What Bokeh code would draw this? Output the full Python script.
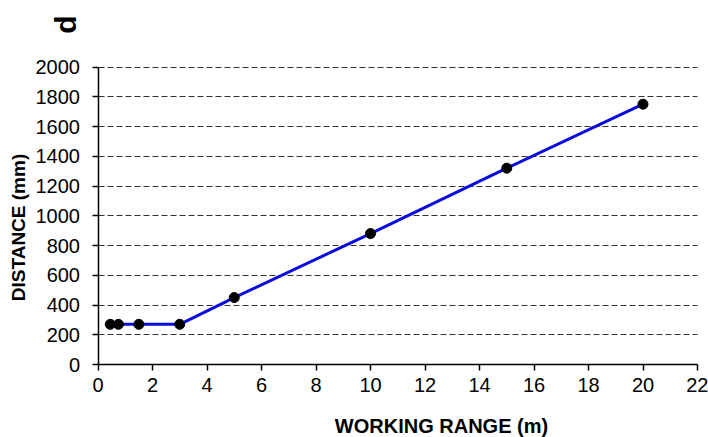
import math
from bokeh.plotting import figure
from bokeh.models import Range1d, SingleIntervalTicker, Label
from bokeh.embed import file_html
from bokeh.resources import INLINE

# Data
working_range = [0.45, 0.75, 1.5, 3, 5, 10, 15, 20]
distance = [270, 270, 270, 270, 450, 880, 1320, 1750]

x_label = "WORKING RANGE (m)"
y_label = "DISTANCE (mm)"
panel_tag = "d"

X_MIN, X_MAX = 0, 22
Y_MIN, Y_MAX = 0, 2000

FONT = "Liberation Sans"

W, H = 708, 437
# frame covers the whole canvas; the axes sit at fixed data locations inside it
px_left, px_right, px_top, px_bottom = 97.5, 697.0, 66.5, 364.0
sx = (px_right - px_left) / (X_MAX - X_MIN)
sy = (px_bottom - px_top) / (Y_MAX - Y_MIN)
x_range = Range1d(X_MIN - px_left / sx, X_MAX + (W - px_right) / sx)
y_range = Range1d(Y_MIN - (H - px_bottom) / sy, Y_MAX + px_top / sy)

p = figure(width=W, height=H, output_backend="svg", toolbar_location=None,
           x_range=x_range, y_range=y_range,
           min_border_left=0, min_border_right=0, min_border_top=0, min_border_bottom=0)
p.outline_line_color = None
p.background_fill_color = "white"
p.border_fill_color = "white"

p.line(working_range, distance, line_color="#0a0adc", line_width=3)
p.scatter(working_range, distance, size=10, fill_color="black", line_color="black")

p.xaxis[0].fixed_location = Y_MIN
p.xaxis[0].bounds = (X_MIN, X_MAX)
p.yaxis[0].fixed_location = X_MIN
p.yaxis[0].bounds = (Y_MIN, Y_MAX)

for ax in (p.xaxis[0], p.yaxis[0]):
    ax.axis_line_color = "black"
    ax.axis_line_width = 1.5
    ax.major_tick_line_color = "black"
    ax.major_tick_line_width = 1.5
    ax.major_tick_in = 0
    ax.major_tick_out = 6
    ax.minor_tick_line_color = None
    ax.major_label_text_font = FONT
    ax.major_label_text_font_size = "20px"
    ax.major_label_text_color = "black"

p.xaxis[0].ticker = SingleIntervalTicker(interval=2)
p.yaxis[0].ticker = SingleIntervalTicker(interval=200)
p.xaxis[0].major_label_standoff = 7
p.yaxis[0].major_label_standoff = 12

p.xgrid.grid_line_color = None
p.ygrid.grid_line_color = "#333333"
p.ygrid.grid_line_dash = "6 3"
p.ygrid.grid_line_width = 1
p.ygrid.ticker = SingleIntervalTicker(interval=200)
p.ygrid.bounds = (Y_MIN, Y_MAX)
p.ygrid.cross_bounds = (X_MIN, X_MAX)

p.add_layout(Label(x=441, y=H - 425, x_units="screen", y_units="screen", text=x_label,
                   text_font=FONT, text_font_size="20px",
                   text_font_style="bold", text_align="center", text_baseline="middle",
                   text_color="black"))
p.add_layout(Label(x=18, y=H - 227, x_units="screen", y_units="screen", text=y_label,
                   text_font=FONT, text_font_size="19px",
                   text_font_style="bold", text_align="center", text_baseline="middle",
                   angle=math.pi / 2, text_color="black"))
p.add_layout(Label(x=65, y=H - 24, x_units="screen", y_units="screen", text=panel_tag,
                   text_font=FONT, text_font_size="30px",
                   text_font_style="bold", text_align="center", text_baseline="middle",
                   angle=math.pi / 2, text_color="black"))

open("out.html", "w").write(file_html(p, INLINE))
